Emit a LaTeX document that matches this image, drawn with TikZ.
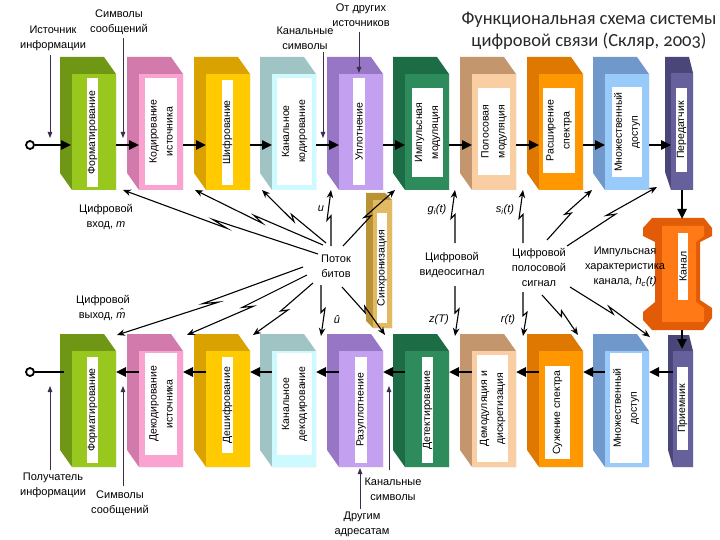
\documentclass[tikz,border=0pt]{standalone}
\usepackage{fontspec}
\setmainfont{Liberation Sans}
\newfontfamily\titlefont{Carlito}[Numbers=OldStyle]
\usetikzlibrary{calc,arrows.meta}
\definecolor{fmtS}{RGB}{112,150,22}\definecolor{fmtF}{RGB}{152,200,30}
\definecolor{srcS}{RGB}{210,122,172}\definecolor{srcF}{RGB}{250,162,208}
\definecolor{encS}{RGB}{218,162,0}\definecolor{encF}{RGB}{255,202,0}
\definecolor{chS}{RGB}{160,196,196}\definecolor{chF}{RGB}{205,250,255}
\definecolor{muxS}{RGB}{152,118,198}\definecolor{muxF}{RGB}{196,160,240}
\definecolor{pmS}{RGB}{28,108,70}\definecolor{pmF}{RGB}{46,140,92}
\definecolor{bpS}{RGB}{196,150,110}\definecolor{bpF}{RGB}{248,206,162}
\definecolor{ssS}{RGB}{222,120,0}\definecolor{ssF}{RGB}{255,152,0}
\definecolor{maS}{RGB}{112,152,202}\definecolor{maF}{RGB}{152,202,250}
\definecolor{txS}{RGB}{74,70,120}\definecolor{txF}{RGB}{102,96,156}
\definecolor{syS}{RGB}{186,146,56}\definecolor{syF}{RGB}{226,186,98}
\definecolor{cnS}{RGB}{226,92,8}\definecolor{cnF}{RGB}{255,122,22}
\definecolor{labc}{RGB}{58,46,74}
\definecolor{titlec}{RGB}{40,40,40}
\tikzset{
 lbl/.style={rotate=90, align=center, font=\fontsize{10.5}{16}\selectfont, inner sep=0pt},
 txt/.style={align=center, font=\fontsize{11}{15}\selectfont, inner sep=0pt},
 mth/.style={inner sep=0pt, font=\fontsize{11}{14}\selectfont\itshape},
 mainarr/.style={line width=2.4pt, -{Triangle[length=10pt,width=9pt]}},
 plainline/.style={line width=2.4pt},
 thinarr/.style={draw=labc, line width=0.9pt, -{Triangle[length=6pt,width=4.5pt]}},
 boltarr/.style={line width=1.1pt, -{Stealth[length=8pt,width=6.5pt]},
   to path={-- ($(\tikztostart)!0.54!(\tikztotarget)$) -- ($(\tikztostart)!0.46!(\tikztotarget)!4pt!90:(\tikztotarget)$) -- (\tikztotarget)}},
 port/.style={circle, draw, line width=1.8pt, fill=white, minimum size=8pt, inner sep=0pt},
}
% #1 x0, #2 ytop, #3 side, #4 front, #5-#6 white x offsets, #7-#8 white y offsets, #9 name ; text follows
\newcommand{\blk}[9]{%
 \fill[#3] (#1,#2) -- ++(44,0) -- ++(12,17) -- ++(0,116) -- ++(-44,0) -- ++(-12,-17) -- cycle;
 \fill[#4] (#1+12,#2+17) rectangle ++(44,116);
 \fill[white] (#1+#5,#2+#7) rectangle (#1+#6,#2+#8);
 \coordinate (#9L) at (#1+12,\rowy);
 \coordinate (#9R) at (#1+56,\rowy);
 \node[lbl] (#9) at ($(#1+#5,#2+#7)!0.5!(#1+#6,#2+#8)$)}
\begin{document}
\begin{tikzpicture}[x=1pt,y=-1pt]
\useasboundingbox (0,0) rectangle (720,540);
\fill[white] (0,0) rectangle (720,540);

% ---------- title
\node[font=\titlefont\fontsize{18.5}{22}\selectfont, align=center, text=titlec] (title) at (589,31) {Функциональная схема системы\\цифровой связи (Скляр, 2003)};

% ---------- top row
\def\rowy{145}
\blk{60}{57}{fmtS}{fmtF}{27}{38}{21}{130}{b1}{Форматирование};
\blk{127}{57}{srcS}{srcF}{18}{50}{21}{128}{b2}{Кодирование\\источника};
\blk{194}{57}{encS}{encF}{28}{39}{23}{128}{b3}{Шифрование};
\blk{260}{57}{chS}{chF}{17}{52}{21}{128}{b4}{Канальное\\кодирование};
\blk{327}{57}{muxS}{muxF}{26}{38}{21}{128}{b5}{Уплотнение};
\blk{393}{57}{pmS}{pmF}{19}{50}{31}{120}{b6}{Импульсная\\модуляция};
\blk{460}{57}{bpS}{bpF}{18}{50}{31}{118}{b7}{Полосовая\\модуляция};
\blk{527}{57}{ssS}{ssF}{16}{48}{31}{116}{b8}{Расширение\\спектра};
\blk{593}{57}{maS}{maF}{19}{49}{30}{120}{b9}{Множественный\\доступ};
% transmitter
\fill[txS] (665,57) -- (689,57) -- (693,73) -- (693,190) -- (671,190) -- (665,172) -- cycle;
\fill[txF] (671,73) rectangle (693,190);
\fill[white] (676,88) rectangle (687,172);
\node[lbl] (tx) at (681.5,130) {Передатчик};
\coordinate (txL) at (671,145);
\coordinate (txB) at (682,190);

% ---------- bottom row
\def\rowy{372}
\blk{60}{334}{fmtS}{fmtF}{27}{38}{23}{129}{c1}{Форматирование};
\blk{127}{334}{srcS}{srcF}{18}{50}{19}{121}{c2}{Декодирование\\источника};
\blk{194}{334}{encS}{encF}{28}{39}{23}{119}{c3}{Дешифрование};
\blk{260}{334}{chS}{chF}{17}{52}{19}{121}{c4}{Канальное\\декодирование};
\blk{327}{334}{muxS}{muxF}{28}{40}{23}{129}{c5}{Разуплотнение};
\blk{393}{334}{pmS}{pmF}{29}{40}{23}{129}{c6}{Детектирование};
\blk{460}{334}{bpS}{bpF}{17}{48}{21}{128}{c7}{Демодуляция и\\дискретизация};
\blk{527}{334}{ssS}{ssF}{18}{43}{32}{125}{c8}{Сужение спектра};
\blk{593}{334}{maS}{maF}{17}{49}{19}{129}{c9}{Множественный\\доступ};
% receiver
\fill[txS] (668,335) -- (689,335) -- (693,351) -- (693,467) -- (673,467) -- (668,450) -- cycle;
\fill[txF] (673,351) rectangle (693,467);
\fill[white] (677,367) rectangle (688,450);
\node[lbl] (rx) at (682.5,408.5) {Приемник};
\coordinate (rxL) at (673,372);
\coordinate (rxT) at (682,349);

% ---------- channel
\fill[cnS] (643,228) -- (652,218) -- (704,218) -- (712,228) -- (712,236) -- (700,242) -- (700,300) -- (712,308) -- (712,318) -- (703,330) -- (652,330) -- (643,320) -- (643,312) -- (655,302) -- (655,242) -- (643,236) -- cycle;
\fill[cnF] (662,226) -- (704,226) -- (704,236) -- (696,242) -- (696,302) -- (704,308) -- (704,322) -- (662,322) -- cycle;
\fill[white] (678,233) rectangle (688,300);
\node[lbl] (chan) at (683,266.5) {Канал};
\coordinate (chT) at (682,219);
\coordinate (chB) at (682,330);

% ---------- synchronization
\fill[syS] (366,193) -- (385,193) -- (392,200) -- (392,328) -- (373,328) -- (366,321) -- cycle;
\fill[syF] (373,200) rectangle (392,328);
\fill[white] (377,213) rectangle (387,323);
\node[lbl] (sync) at (382,268) {Синхронизация};

% ---------- main chain arrows
\node[port] (in) at (30,145) {};
\node[port] (out) at (30,372) {};
\coordinate (inT) at (71,145);
\coordinate (outT) at (64,372);
\draw[mainarr] (in) -- (inT);
\draw[mainarr] (b1R) -- (b2L);
\draw[mainarr] (b2R) -- (b3L);
\draw[mainarr] (b3R) -- (b4L);
\draw[mainarr] (b4R) -- (b5L);
\draw[mainarr] (b5R) -- (b6L);
\draw[mainarr] (b6R) -- (b7L);
\draw[mainarr] (b7R) -- (b8L);
\draw[mainarr] (b8R) -- (b9L);
\draw[mainarr] (b9R) -- (txL);
\draw[mainarr] (txB) -- (chT);
\draw[mainarr] (chB) -- (rxT);
\draw[mainarr] (rxL) -- (c9R);
\draw[mainarr] (c9L) -- (c8R);
\draw[mainarr] (c8L) -- (c7R);
\draw[mainarr] (c7L) -- (c6R);
\draw[mainarr] (c6L) -- (c5R);
\draw[mainarr] (c5L) -- (c4R);
\draw[mainarr] (c4L) -- (c3R);
\draw[mainarr] (c3L) -- (c2R);
\draw[mainarr] (c2L) -- (c1R);
\draw[plainline] (outT) -- (out);

% ---------- outer labels with thin arrows
\node[txt] (srcinfo) at (53,38) {Источник\\информации};
\node[txt] (msgsym) at (119,22) {Символы\\сообщений};
\node[txt] (chsym) at (305,38) {Канальные\\символы};
\node[txt] (other) at (361,15) {От других\\источников};
\coordinate (a1s) at (50,55);   \coordinate (a1e) at (50,138);
\coordinate (a2s) at (123,38);  \coordinate (a2e) at (123,138);
\coordinate (a3s) at (323,52);  \coordinate (a3e) at (323,138);
\coordinate (a4s) at (359,32);  \coordinate (a4e) at (359,73);
\draw[thinarr] (a1s) -- (a1e);
\draw[thinarr] (a2s) -- (a2e);
\draw[thinarr] (a3s) -- (a3e);
\draw[thinarr] (a4s) -- (a4e);

\node[txt] (rcvinfo) at (53,485) {Получатель\\информации};
\node[txt] (msgsym2) at (120,503) {Символы\\сообщений};
\node[txt] (chsym2) at (393,489) {Канальные\\символы};
\node[txt] (others) at (362,524) {Другим\\адресатам};
\coordinate (d1s) at (50,470);  \coordinate (d1e) at (50,386);
\coordinate (d2s) at (123,486); \coordinate (d2e) at (123,386);
\coordinate (d3s) at (389,470); \coordinate (d3e) at (389,386);
\coordinate (d4s) at (360,509); \coordinate (d4e) at (360,468);
\draw[thinarr] (d1s) -- (d1e);
\draw[thinarr] (d2s) -- (d2e);
\draw[thinarr] (d3s) -- (d3e);
\draw[thinarr] (d4s) -- (d4e);

% ---------- middle texts
\node[txt] (din) at (106,217) {Цифровой\\вход, \textit{m}};
\node[txt] (dout) at (103,308) {Цифровой\\выход, \textit{\^{m}}};
\node[txt] (bits) at (336,266) {Поток\\битов};
\node[txt] (video) at (452,265) {Цифровой\\видеосигнал};
\node[txt] (band) at (539,267) {Цифровой\\полосовой\\сигнал};
\node[txt] (imp) at (625,267) {Импульсная\\характеристика\\канала, \textit{h\textsubscript{c}(t)}};
\node[mth] (lu) at (321,209) {u};
\node[mth] (luh) at (337,320) {\^{u}};
\node[mth] (lg) at (437,210) {g\textsubscript{i}(t)};
\node[mth] (ls) at (505,210) {s\textsubscript{i}(t)};
\node[mth] (lz) at (439,320) {z(T)};
\node[mth] (lr) at (508,320) {r(t)};

% ---------- bolt arrows
\coordinate (s1) at (318,254); \coordinate (e1) at (123,190);
\coordinate (s2) at (323,245); \coordinate (e2) at (195,190);
\coordinate (s3) at (326,243); \coordinate (e3) at (262,190);
\coordinate (s4) at (331,246); \coordinate (e4) at (331,190);
\coordinate (s5) at (343,246); \coordinate (e5) at (395,190);
\coordinate (s6) at (455,243); \coordinate (e6) at (455,190);
\coordinate (s7) at (523,243); \coordinate (e7) at (523,190);
\coordinate (s8) at (547,240); \coordinate (e8) at (592,190);
\coordinate (s9) at (567,246); \coordinate (e9) at (657,187);
\draw[boltarr] (s1) to (e1);
\draw[boltarr] (s2) to (e2);
\draw[boltarr] (s3) to (e3);
\draw[boltarr] (s4) to (e4);
\draw[boltarr] (s5) to (e5);
\draw[boltarr] (s6) to (e6);
\draw[boltarr] (s7) to (e7);
\draw[boltarr] (s8) to (e8);
\draw[boltarr] (s9) to (e9);

\coordinate (r1) at (303,267); \coordinate (f1) at (117,335);
\coordinate (r2) at (307,275); \coordinate (f2) at (187,335);
\coordinate (r3) at (313,283); \coordinate (f3) at (253,335);
\coordinate (r4) at (321,285); \coordinate (f4) at (321,336);
\coordinate (r5) at (342,287); \coordinate (f5) at (385,335);
\coordinate (r6) at (455,286); \coordinate (f6) at (455,336);
\coordinate (r7) at (523,292); \coordinate (f7) at (523,336);
\coordinate (r8) at (542,295); \coordinate (f8) at (578,335);
\coordinate (r9) at (570,287); \coordinate (f9) at (650,337);
\draw[boltarr] (r1) to (f1);
\draw[boltarr] (r2) to (f2);
\draw[boltarr] (r3) to (f3);
\draw[boltarr] (r4) to (f4);
\draw[boltarr] (r5) to (f5);
\draw[boltarr] (r6) to (f6);
\draw[boltarr] (r7) to (f7);
\draw[boltarr] (r8) to (f8);
\draw[boltarr] (r9) to (f9);
\end{tikzpicture}
\end{document}
